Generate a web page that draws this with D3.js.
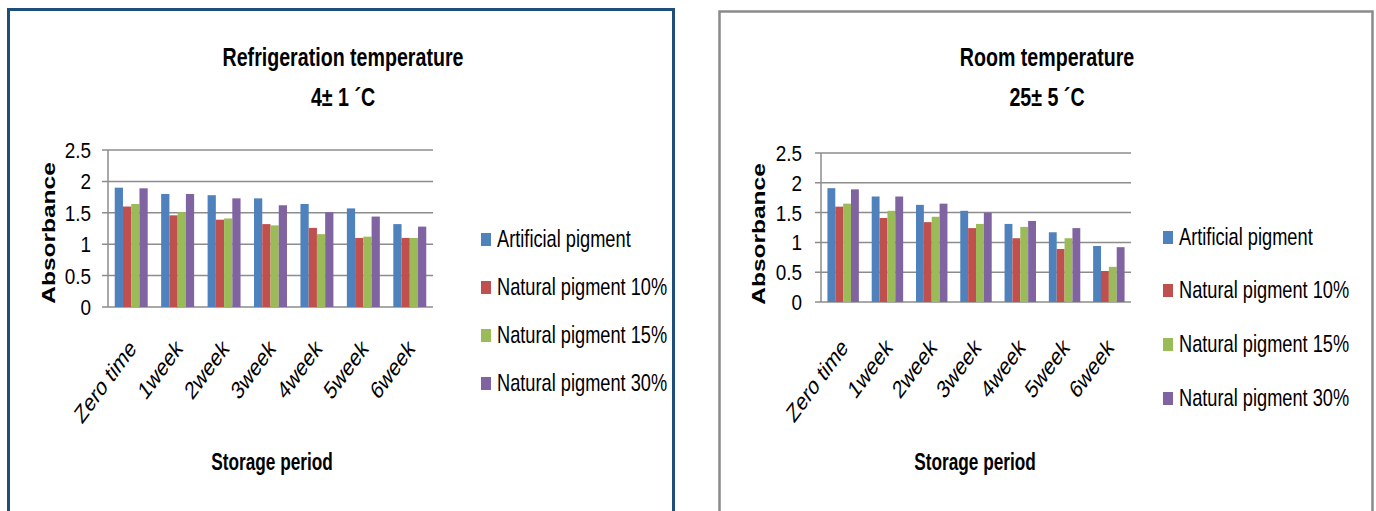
<!DOCTYPE html>
<html><head><meta charset="utf-8">
<script src="https://cdn.jsdelivr.net/npm/d3@7"></script>
<style>
html,body{margin:0;padding:0;background:#fff;}
svg{display:block;}
text{font-family:"Liberation Sans",Arial,sans-serif;fill:#000;}
</style></head>
<body>
<svg id="c" width="1376" height="511"></svg>
<script>
const categories = ["Zero time","1week","2week","3week","4week","5week","6week"];
const seriesNames = ["Artificial pigment","Natural pigment 10%","Natural pigment 15%","Natural pigment 30%"];
const seriesColors = ["#4f81bd","#c0504d","#9bbb59","#8064a2"];
const yTicks = [0,0.5,1,1.5,2,2.5];
const yTickLabels = ["0","0.5","1","1.5","2","2.5"];

// Refrigeration temperature 4±1 °C
const refArtificial = [1.90,1.80,1.78,1.73,1.64,1.57,1.32];
const refNatural10  = [1.60,1.46,1.39,1.32,1.26,1.10,1.10];
const refNatural15  = [1.64,1.51,1.41,1.30,1.16,1.12,1.10];
const refNatural30  = [1.89,1.80,1.73,1.62,1.51,1.44,1.28];

// Room temperature 25±5 °C
const roomArtificial = [1.91,1.77,1.63,1.53,1.31,1.17,0.94];
const roomNatural10  = [1.60,1.41,1.34,1.24,1.07,0.89,0.52];
const roomNatural15  = [1.65,1.53,1.43,1.31,1.26,1.07,0.59];
const roomNatural30  = [1.89,1.77,1.65,1.50,1.36,1.24,0.92];

const svg = d3.select("#c");

// condensed text: horizontal squeeze applied after rotation (like a squeezed picture)
function label(parent, o){
  return parent.append("text")
    .attr("transform",`translate(${o.x},${o.y}) scale(${o.f||1},1)${o.rotate?` rotate(${o.rotate})`:""}`)
    .attr("text-anchor",o.anchor||"start")
    .attr("font-size",o.size)
    .attr("font-weight",o.weight||"normal")
    .text(o.text);
}

function drawChart(cfg){
  const g = svg.append("g");
  g.append("rect").attr("x",cfg.frame[0]).attr("y",cfg.frame[1])
    .attr("width",cfg.frame[2]).attr("height",cfg.frame[3])
    .attr("fill","none").attr("stroke",cfg.frameColor).attr("stroke-width",cfg.frameWidth);

  const x = d3.scaleBand().domain(categories).range([cfg.x0,cfg.x1]).paddingInner(0.29).paddingOuter(0.145);
  const xs = d3.scaleBand().domain(seriesNames).range([0,x.bandwidth()]);
  const y = d3.scaleLinear().domain([0,2.5]).range([cfg.yZero,cfg.yTop]);

  g.append("g").selectAll("line").data(yTicks).join("line")
    .attr("x1",cfg.x0-6).attr("x2",cfg.x1)
    .attr("y1",d=>y(d)).attr("y2",d=>y(d))
    .attr("stroke","#8c8c8c").attr("stroke-width",1.5);
  g.append("line").attr("x1",cfg.x0).attr("x2",cfg.x0).attr("y1",cfg.yTop).attr("y2",cfg.yZero)
    .attr("stroke","#8c8c8c").attr("stroke-width",1.5);

  yTicks.forEach((t,i)=>label(g,{x:cfg.yLabelX,y:y(t)+8,anchor:"end",size:22,f:0.86,text:yTickLabels[i]}));

  const groups = g.append("g").selectAll("g").data(categories).join("g")
    .attr("transform",d=>`translate(${x(d)},0)`);
  groups.selectAll("rect").data((c,ci)=>cfg.series.map((s,si)=>({name:seriesNames[si],v:s[ci],color:seriesColors[si]})))
    .join("rect")
    .attr("x",d=>xs(d.name)).attr("width",xs.bandwidth())
    .attr("y",d=>y(d.v)).attr("height",d=>y(0)-y(d.v))
    .attr("fill",d=>d.color);

  categories.forEach(c=>label(g,{x:x(c)+x.bandwidth()/2+6,y:cfg.yZero+cfg.xLabOff,rotate:-45,anchor:"end",size:25,f:0.74,text:c}));

  label(g,{x:cfg.titleX,y:66,anchor:"middle",size:25,weight:"bold",f:0.785,text:cfg.title1});
  label(g,{x:cfg.titleX,y:106,anchor:"middle",size:25,weight:"bold",f:0.785,text:cfg.title2});

  label(g,{x:cfg.xTitleX,y:470,anchor:"middle",size:23,weight:"bold",f:0.75,text:"Storage period"});

  label(g,{x:cfg.yTitleX,y:cfg.yTitleY,rotate:-90,anchor:"middle",size:24.5,weight:"bold",f:0.75,text:"Absorbance"});

  seriesNames.forEach((s,i)=>{
    g.append("rect").attr("x",cfg.legX).attr("y",cfg.legY[i]-6).attr("width",10).attr("height",13)
      .attr("fill",seriesColors[i]);
    label(g,{x:cfg.legX+16,y:cfg.legY[i]+8,size:24,f:0.76,text:s});
  });
}

drawChart({
  frame:[8.5,9.5,665,520], frameColor:"#1f4e79", frameWidth:3,
  x0:108, x1:433, yZero:307, yTop:150, yLabelX:91, xLabOff:43,
  series:[refArtificial,refNatural10,refNatural15,refNatural30],
  title1:"Refrigeration temperature", title2:"4\u00b1 1 \u00b4C", titleX:343,
  xTitleX:272, yTitleX:55, yTitleY:233,
  legX:481, legY:[239,287,335,383]
});
drawChart({
  frame:[719.5,11.5,653,520], frameColor:"#8a8a8a", frameWidth:2.5,
  x0:821, x1:1131, yZero:302, yTop:153, yLabelX:802, xLabOff:47,
  series:[roomArtificial,roomNatural10,roomNatural15,roomNatural30],
  title1:"Room temperature", title2:"25\u00b1 5 \u00b4C", titleX:1047,
  xTitleX:975, yTitleX:765, yTitleY:234,
  legX:1163, legY:[237,290,344,398]
});
</script>
</body></html>
